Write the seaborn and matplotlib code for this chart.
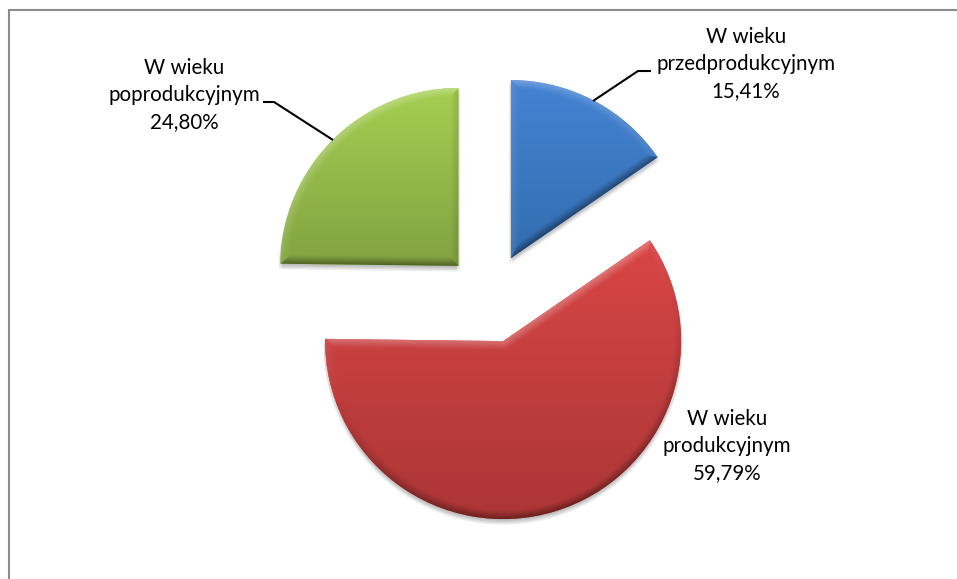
import numpy as np
import matplotlib
matplotlib.use("Agg")
import matplotlib.pyplot as plt
import matplotlib.patheffects as pe
from matplotlib.patches import Rectangle
import seaborn as sns

categories = ["W wieku\nprzedprodukcyjnym", "W wieku\nprodukcyjnym", "W wieku\npoprodukcyjnym"]
shares = [15.41, 59.79, 24.80]
explode = [0.253, 0.253, 0.253]
top_colors = ["#4583D3", "#D94647", "#A5CF52"]
bottom_colors = ["#336DAF", "#AB3535", "#82A241"]

W, H = 957, 579
CX, CY, R = 490, 298, 178

sns.set_theme(style="white")
plt.rcParams["font.family"] = ["Lato", "DejaVu Sans"]

fig = plt.figure(figsize=(W / 100, H / 100), dpi=100, facecolor="white")
ax = fig.add_axes([0, 0, 1, 1])
palette = sns.color_palette(top_colors)
wedges, _ = ax.pie(shares, explode=explode, colors=palette, startangle=90,
                   counterclock=False, radius=1, center=(0, 0))


def px(x, y):
    return (x - CX) / R, (CY - y) / R


def shaded(w, top, bottom):
    cx, cy = w.center
    t1, t2 = np.radians(w.theta1), np.radians(w.theta2)
    xs = np.linspace(cx - 1.02, cx + 1.02, 800)
    ys = np.linspace(cy + 1.02, cy - 1.02, 800)
    X, Y = np.meshgrid(xs, ys)
    dx, dy = X - cx, Y - cy
    rho = np.hypot(dx, dy) + 1e-9
    cands = [(1 - rho, dx / rho, dy / rho)]
    for t, sgn in ((t1, 1), (t2, -1)):
        ux, uy = np.cos(t), np.sin(t)
        p = np.clip(dx * ux + dy * uy, 0, None)
        d = np.hypot(dx - p * ux, dy - p * uy)
        nx, ny = sgn * np.sin(t), -sgn * np.cos(t)
        cands.append((d, np.full_like(d, nx), np.full_like(d, ny)))
    D = np.stack([c[0] for c in cands])
    idx = D.argmin(axis=0)
    NX = np.choose(idx, [c[1] for c in cands])
    NY = np.choose(idx, [c[2] for c in cands])
    dist = D.min(axis=0)
    verts = w.get_path().vertices
    vy = verts[:, 1]
    lo, hi = vy.min(), vy.max()
    f = np.clip((hi - Y) / (hi - lo), 0, 1)[..., None]
    top, bottom = np.array(matplotlib.colors.to_rgb(top)), np.array(matplotlib.colors.to_rgb(bottom))
    img = top * (1 - f) + bottom * f
    bevel = 9 / R
    s = (NX * -0.3 + NY * 0.95) * np.clip(1 - dist / bevel, 0, 1) ** 1.1
    s = s[..., None]
    img = np.where(s > 0, img + (1 - img) * s * 0.28, img * (1 + s * 0.42))
    return np.clip(img, 0, 1), (xs[0], xs[-1], ys[-1], ys[0])


shadow = [pe.SimplePatchShadow(offset=(ox, -k), shadow_rgbFace="k", alpha=0.04)
          for k in (1, 2, 3, 4) for ox in (-1, 1)] + [pe.Normal()]

for w, t, b in zip(wedges, top_colors, bottom_colors):
    w.set_path_effects(shadow)
    w.set_linewidth(0)
    img, ext = shaded(w, t, b)
    im = ax.imshow(img, extent=ext, origin="upper", zorder=w.get_zorder() + 1,
                   interpolation="bilinear")
    im.set_clip_path(w)

ax.set_xlim(-CX / R, (W - CX) / R)
ax.set_ylim((CY - H) / R, CY / R)
ax.set_aspect("equal")
ax.axis("off")

# chart frame
fig.add_artist(Rectangle((9 / W, -0.01), 1.0, 1 - 10 / H + 0.01, transform=fig.transFigure,
                         fill=False, edgecolor="#8C8C8C", linewidth=1.5))

# labels
text_pos = [(746, 64), (727, 446), (184, 95)]
for cat, val, (tx, ty) in zip(categories, shares, text_pos):
    label = f"{cat}\n{val:.2f}%".replace(".", ",")
    ax.text(*px(tx, ty), label, ha="center", va="center", fontsize=14.8,
            color="#000000", linespacing=1.42, zorder=10)

# leader lines
leaders = [[(593, 101), (638, 71), (651, 71)], [(333, 140), (274, 102), (263, 102)]]
for pts in leaders:
    xy = np.array([px(*p) for p in pts])
    ax.plot(xy[:, 0], xy[:, 1], color="black", linewidth=1.5, zorder=10, solid_capstyle="butt")

fig.savefig("out.png", dpi=100, facecolor="white")
